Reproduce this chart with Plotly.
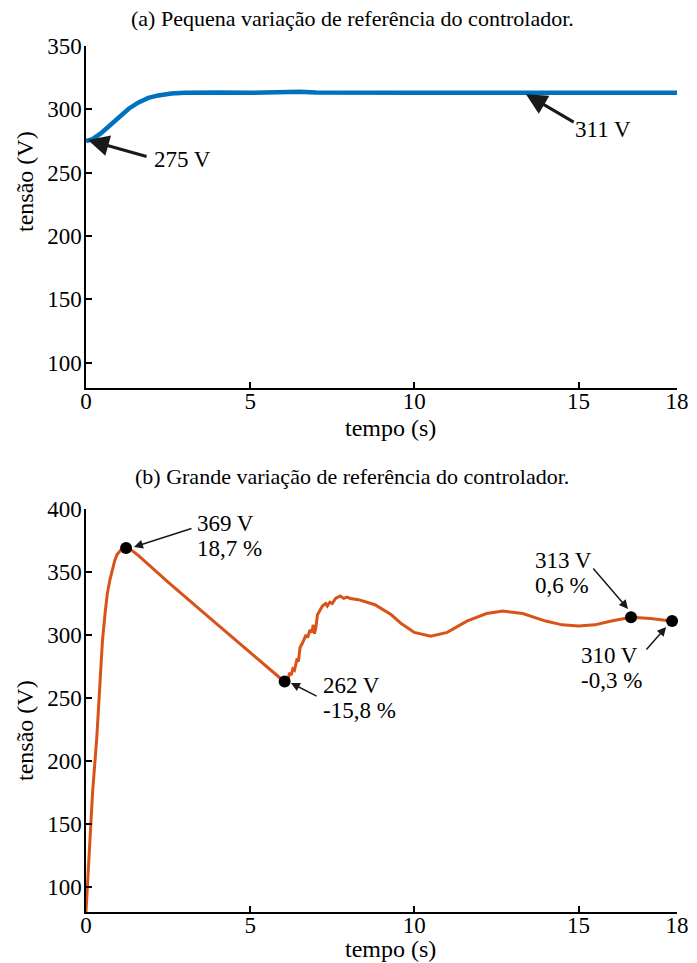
import plotly.graph_objects as go

# ---------------- data ----------------
# (a) small reference change
t_a = [0, 0.2, 0.45, 0.7, 1.0, 1.3, 1.6, 1.9, 2.2, 2.6, 3.0, 3.5, 4.0, 5.0, 5.5, 6.0, 6.5, 7.0, 8.0, 10.0, 12.0, 14.0, 16.0, 18.0]
v_a = [275, 276.5, 281, 287, 294, 300.5, 305.5, 309, 311, 312.5, 313, 313.3, 313.3, 313, 313.5, 314, 313.8, 313.3, 313, 313, 313, 313, 313, 313]

# (b) large reference change
t_b = [0, 0.1, 0.2, 0.33, 0.43, 0.5, 0.58, 0.65, 0.73, 0.8, 0.88, 0.95, 1.05, 1.22, 1.35, 1.6, 2.5, 3.5, 4.5, 5.5, 5.9, 6.05,
       6.1, 6.15, 6.2, 6.25, 6.3, 6.35, 6.42, 6.47, 6.52, 6.6, 6.7, 6.75, 6.82, 6.88, 6.92, 6.96, 7.0, 7.05, 7.13, 7.2, 7.3,
       7.35, 7.43, 7.5, 7.6, 7.74, 7.85, 7.95, 8.05, 8.3, 8.8, 9.3, 9.6, 10.0, 10.5, 11.0, 11.6, 12.2, 12.7, 13.3, 14.0,
       14.5, 15.0, 15.5, 16.0, 16.6, 17.2, 17.85, 18.0]
v_b = [80, 130, 175, 219, 267, 295, 317, 333, 344, 352, 359.5, 364, 367, 369, 368, 363, 342, 319.5, 297, 275, 266, 263,
       265, 264, 270, 268, 273, 272, 280, 279, 290, 294, 300, 298, 304, 302, 308, 301, 306, 316, 320, 323, 325,
       323, 326, 325, 329, 331, 329, 330, 329, 328, 324, 316, 309, 302, 299, 302, 311, 317, 319, 317, 311,
       308, 307, 308, 311, 314, 313, 311, 310.5]

# marked points (b)
mk_t = [1.22, 6.05, 16.6, 17.85]
mk_v = [369, 263, 314, 311]

x_ticks = [0, 5, 10, 15, 18]
y_ticks_a = [100, 150, 200, 250, 300, 350]
y_ticks_b = [100, 150, 200, 250, 300, 350, 400]

title_a = "(a) Pequena variação de referência do controlador."
title_b = "(b) Grande variação de referência do controlador."
xlab = "tempo (s)"
ylab = "tensão (V)"

BLUE = "#0072BD"
ORANGE = "#D95319"
FONT = "Liberation Serif"
W, H = 697, 963

def px(x):
    return x / W

def py(y):
    return 1 - y / H

fig = go.Figure()
fig.add_trace(go.Scatter(x=t_a, y=v_a, mode="lines", line=dict(color=BLUE, width=4.5),
                         xaxis="x", yaxis="y", showlegend=False, hoverinfo="skip"))
fig.add_trace(go.Scatter(x=t_b, y=v_b, mode="lines", line=dict(color=ORANGE, width=3),
                         xaxis="x2", yaxis="y2", showlegend=False, hoverinfo="skip"))
fig.add_trace(go.Scatter(x=mk_t, y=mk_v, mode="markers", marker=dict(color="black", size=12),
                         xaxis="x2", yaxis="y2", showlegend=False, hoverinfo="skip", cliponaxis=False))

axis_common = dict(showgrid=False, zeroline=False, showline=True, linecolor="black", linewidth=1.5,
                   ticks="inside", ticklen=6, tickwidth=1.5, tickcolor="black", automargin=False,
                   tickfont=dict(family=FONT, size=23, color="black"))

fig.update_layout(
    template="none",
    width=W, height=H, margin=dict(l=0, r=0, t=0, b=0, pad=0), autosize=False,
    paper_bgcolor="white", plot_bgcolor="white",
    xaxis=dict(domain=[px(86), px(677)], anchor="y", range=[0, 18], tickvals=x_ticks,
               ticklabelstandoff=-8, **axis_common),
    yaxis=dict(domain=[py(388), py(46)], anchor="x", range=[80, 350], tickvals=y_ticks_a,
               ticklabelstandoff=-2, **axis_common),
    xaxis2=dict(domain=[px(86), px(677)], anchor="y2", range=[0, 18], tickvals=x_ticks,
                ticklabelstandoff=-8, **axis_common),
    yaxis2=dict(domain=[py(912), py(509)], anchor="x2", range=[80, 400], tickvals=y_ticks_b,
                ticklabelstandoff=-2, **axis_common),
)

ann = []
tf = dict(family=FONT, size=23, color="black")
# titles
ann.append(dict(text=title_a, x=px(352), y=py(18), xref="paper", yref="paper", showarrow=False,
                font=dict(family=FONT, size=22, color="black"), xanchor="center", yanchor="middle"))
ann.append(dict(text=title_b, x=px(352), y=py(476), xref="paper", yref="paper", showarrow=False,
                font=dict(family=FONT, size=22, color="black"), xanchor="center", yanchor="middle"))
# axis titles
for yc in (428, 949):
    ann.append(dict(text=xlab, x=px(390), y=py(yc), xref="paper", yref="paper", showarrow=False,
                    font=dict(family=FONT, size=24, color="black"), xanchor="center", yanchor="middle"))
for yc in (182, 731):
    ann.append(dict(text=ylab, x=px(25), y=py(yc), xref="paper", yref="paper", showarrow=False, textangle=-90,
                    font=dict(family=FONT, size=24, color="black"), xanchor="center", yanchor="middle"))

def arrow(xr, yr, x, y, ax, ay, w, size, head):
    return dict(text="", x=x, y=y, ax=ax, ay=ay, xref=xr, yref=yr, axref=xr, ayref=yr,
                showarrow=True, arrowhead=head, arrowwidth=w, arrowsize=size, arrowcolor="#1a1a1a")

# arrows (top)
ann.append(arrow("x", "y", 0.06, 275.8, 1.89, 262.4, 3, 1.4, 2))
ann.append(arrow("x", "y", 13.4, 312, 14.9, 289.2, 3, 1.4, 2))
ann.append(dict(text="275 V", x=2.01, y=260, xref="x", yref="y", showarrow=False, font=tf,
                xanchor="left", yanchor="middle"))
ann.append(dict(text="311 V", x=14.83, y=283.7, xref="x", yref="y", showarrow=False, font=tf,
                xanchor="left", yanchor="middle"))

# arrows (bottom)
ann.append(arrow("x2", "y2", 1.46, 369.8, 3.26, 384.9, 1.5, 1.2, 2))
ann.append(arrow("x2", "y2", 6.24, 261.9, 7.07, 250.8, 1.5, 1.2, 2))
ann.append(arrow("x2", "y2", 16.51, 320.6, 15.41, 354, 1.5, 1.2, 2))
ann.append(arrow("x2", "y2", 17.67, 306.3, 17.03, 287.3, 1.5, 1.2, 2))

labels_b = [
    (3.32, 523, "369 V", 548, "18,7 %"),
    (7.16, 685, "262 V", 710, "-15,8 %"),
    (13.62, 560, "313 V", 585, "0,6 %"),
    (15.02, 655, "310 V", 680, "-0,3 %"),
]
for tx, y1, s1, y2, s2 in labels_b:
    for yy, s in ((y1, s1), (y2, s2)):
        ann.append(dict(text=s, x=tx, y=py(yy), xref="x2", yref="paper", showarrow=False, font=tf,
                        xanchor="left", yanchor="middle"))

fig.update_layout(annotations=ann)
fig.write_html("out.html")
